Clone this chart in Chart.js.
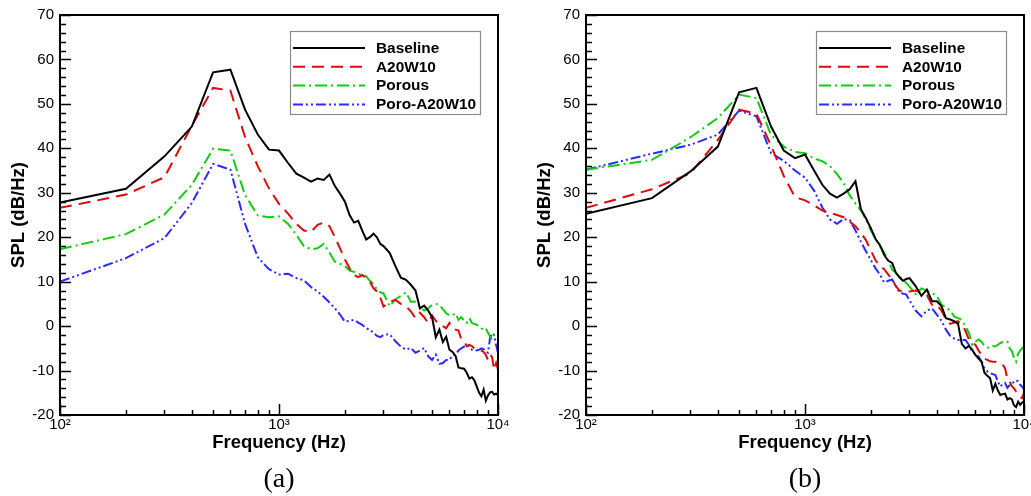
<!DOCTYPE html>
<html><head><meta charset="utf-8">
<script src="https://cdn.jsdelivr.net/npm/chart.js@4.4.0/dist/chart.umd.min.js"></script>
<style>
html,body{margin:0;padding:0;background:#fff;overflow:hidden;width:1031px;height:496px;}
.wrap{position:absolute;top:0;width:526px;height:496px;}
#wa{left:0}
#wb{left:526px}
canvas{display:block}
</style></head><body>
<div class="wrap" id="wa"><canvas id="ca" width="526" height="496"></canvas></div>
<div class="wrap" id="wb"><canvas id="cb" width="526" height="496"></canvas></div>
<script>
// ---- data ----
const freqs = [100,200,300,400,500,600,700,800,900,1000,
  1100,1200,1300,1400,1500,1600,1700,1800,1900,2000,
  2100,2200,2300,2400,2500,2600,2700,2800,2900,3000,
  3200,3400,3600,3800,4000,4200,4400,4600,4800,5000,
  5200,5400,5600,5800,6000,6200,6400,6600,6800,7000,
  7200,7400,7600,7800,8000,8200,8400,8600,8800,9000,
  9200,9400,9600,9800,10000];

const seriesNames = ['Baseline','A20W10','Porous','Poro-A20W10'];

// panel (a)
const baselineA = [27.8,30.9,38.2,44.9,57.1,57.7,48.7,43.1,39.7,39.5,
  36.7,34.3,33.4,32.5,33.2,32.9,34.1,31.5,29.8,28.0,
  25.0,23.3,23.7,21.5,19.5,20.0,20.8,20.0,18.5,18.0,
  16.5,13.5,10.9,10.4,9.3,8.0,4.0,4.6,3.5,2.0,
  -2.5,-0.8,-3.6,-2.4,-5.3,-5.8,-6.7,-9.3,-9.5,-9.6,
  -10.5,-11.8,-11.5,-12.2,-13.6,-15.0,-15.8,-14.3,-16.8,-15.6,
  -14.9,-14.8,-15.4,-15.2,-15.5];
const a20w10A = [26.6,29.6,33.5,45.1,53.6,53.0,42.5,36.0,31.0,27.5,
  25.3,23.0,21.5,21.2,22.8,23.3,22.5,20.0,17.5,15.0,
  13.0,11.5,11.0,11.5,10.8,10.0,8.5,7.8,6.5,4.4,
  5.5,5.9,5.0,4.5,3.3,1.8,3.0,2.0,0.7,2.4,
  1.2,0.5,0.0,-0.5,0.7,-0.5,-0.8,-1.0,-3.0,-3.4,
  -4.5,-4.2,-4.5,-5.0,-5.0,-5.3,-5.5,-5.8,-6.5,-7.6,
  -6.4,-7.0,-9.8,-8.3,-9.8];
const porousA = [17.3,20.7,25.1,31.8,39.9,39.5,29.5,24.9,24.5,24.7,
  23.0,20.5,18.0,17.3,17.5,18.5,16.5,14.5,14.0,13.5,
  12.5,12.2,11.8,11.5,11.2,10.2,9.5,8.2,7.6,7.4,
  4.5,6.0,6.8,7.6,5.5,5.5,4.2,3.5,4.0,4.8,
  5.0,4.8,3.8,2.9,2.4,2.5,2.9,1.4,2.0,1.2,
  0.7,1.8,0.7,0.5,0.3,0.0,-0.5,-0.8,-0.5,-1.5,
  -2.3,-3.0,-1.9,-2.0,-2.5];
const poroA20w10A = [10.0,15.3,19.8,27.7,36.5,35.2,23.0,15.5,12.8,11.6,
  11.8,10.8,10.3,8.8,7.8,6.6,5.3,4.0,2.6,1.0,
  1.2,1.4,0.8,0.3,-0.5,-0.8,-1.5,-2.2,-2.5,-2.0,
  -1.8,-3.4,-4.6,-5.3,-4.9,-6.0,-5.5,-4.9,-6.8,-7.6,
  -6.4,-8.5,-8.3,-7.6,-7.6,-6.6,-6.4,-5.5,-5.0,-4.6,
  -4.3,-4.5,-5.3,-5.3,-5.5,-5.3,-5.0,-5.2,-5.8,-6.0,
  -2.7,-1.6,-2.0,-4.2,-6.0];

// panel (b)
const baselineB = [25.3,28.8,34.8,40.4,52.6,53.6,44.9,39.5,37.8,38.6,
  35.0,31.8,29.8,28.9,29.8,30.8,32.6,26.3,24.2,22.0,
  19.6,18.2,16.0,14.7,14.2,12.0,11.0,10.2,10.6,10.8,
  9.0,6.8,8.2,5.6,5.6,4.5,1.8,1.5,1.1,0.5,
  -4.0,-5.0,-4.5,-5.3,-6.5,-7.3,-8.0,-10.5,-11.2,-11.7,
  -14.5,-13.0,-14.5,-15.5,-15.3,-15.2,-16.5,-16.2,-16.5,-17.8,
  -18.2,-17.0,-17.7,-17.2,-17.0];
const a20w10B = [26.6,30.8,34.4,41.9,48.7,47.8,40.6,33.8,29.0,28.3,
  27.2,26.0,25.5,25.0,24.5,23.5,22.5,21.0,19.3,17.0,
  14.8,13.5,12.8,11.6,10.5,9.0,8.0,7.8,7.8,7.8,
  8.0,7.5,7.0,4.8,4.8,3.5,1.5,0.5,0.8,1.1,
  0.3,-1.0,-3.0,-3.8,-4.2,-5.5,-6.5,-7.3,-7.6,-7.9,
  -8.0,-8.0,-8.3,-8.5,-8.7,-9.5,-12.0,-12.5,-13.5,-14.0,
  -14.7,-15.4,-16.0,-16.2,-15.0];
const porousB = [35.2,37.4,42.5,46.8,52.1,51.3,43.0,40.4,39.2,38.9,
  37.7,37.1,36.0,34.2,32.2,29.4,27.6,26.0,24.0,21.5,
  19.6,18.0,16.5,14.9,12.7,12.0,11.2,10.4,9.7,8.9,
  7.2,8.5,8.0,7.4,6.8,4.8,4.3,3.5,2.2,1.8,
  1.4,0.0,-1.5,-4.2,-3.5,-3.0,-3.5,-4.5,-4.8,-4.9,
  -4.5,-4.6,-4.2,-3.8,-3.6,-3.4,-3.5,-5.0,-5.6,-7.2,
  -8.0,-6.2,-5.5,-5.0,-4.5];
const poroA20w10B = [35.2,38.8,40.8,43.1,48.5,47.2,38.9,37.2,35.0,33.4,
  30.5,26.7,24.0,23.0,24.1,23.9,21.5,19.0,16.8,14.8,
  13.0,11.6,9.8,10.2,10.5,9.0,7.6,7.3,7.1,5.8,
  3.5,2.2,3.5,4.0,2.6,1.2,-0.8,-2.2,-2.8,-3.1,
  -3.1,-3.1,-4.2,-5.8,-6.3,-6.8,-8.0,-9.5,-10.2,-10.6,
  -10.8,-11.0,-12.5,-13.6,-13.0,-12.8,-13.9,-13.3,-12.8,-12.6,
  -12.2,-12.4,-13.2,-13.6,-14.3];

// ---- ticks ----
const xTickValues = [100,200,300,400,500,600,700,800,900,1000,
  2000,3000,4000,5000,6000,7000,8000,9000,10000];
const xMajorValues = [100,1000,10000];
const xMajorLabels = ['10\u00b2','10\u00b3','10\u2074'];
const yTickValues = [-20,-10,0,10,20,30,40,50,60,70];
const yMinorValues = [-18,-16,-14,-12,-8,-6,-4,-2,2,4,6,8,12,14,16,18,22,24,26,28,
  32,34,36,38,42,44,46,48,52,54,56,58,62,64,66,68];

// ---- styles ----
const colors = ['#000000','#dc0a0a','#12cc12','#2a2aff'];
const dashes = [[], [12,7], [12,4,2,4], [10,3,2,3,2,3]];
const SANS = '"Liberation Sans", Arial, sans-serif';
Chart.defaults.font.family = SANS;
Chart.defaults.color = '#000';

const framePlugin = {
  id: 'frame',
  afterDraw(chart) {
    const {ctx, chartArea: a, scales: {x, y}} = chart;
    ctx.save();
    ctx.strokeStyle = '#000';
    ctx.setLineDash([]);
    ctx.lineWidth = 1.5;
    ctx.beginPath();
    yTickValues.forEach(v => { const py = Math.round(y.getPixelForValue(v)) + 0.5; ctx.moveTo(a.left, py); ctx.lineTo(a.left + 11, py); });
    yMinorValues.forEach(v => { const py = Math.round(y.getPixelForValue(v)) + 0.5; ctx.moveTo(a.left, py); ctx.lineTo(a.left + 6, py); });
    ctx.stroke();
    ctx.beginPath();
    xTickValues.forEach(v => {
      const px = Math.round(x.getPixelForValue(v)) + 0.5;
      const len = xMajorValues.includes(v) ? 11 : 5;
      ctx.moveTo(px, a.bottom); ctx.lineTo(px, a.bottom - len);
    });
    ctx.stroke();
    ctx.lineWidth = 2;
    ctx.strokeRect(a.left, a.top, a.right - a.left, a.bottom - a.top);
    const bx = a.left + 230.5, by = a.top + 16.5;
    ctx.fillStyle = '#fff';
    ctx.fillRect(bx, by, 190, 83);
    ctx.strokeStyle = '#8c8c8c';
    ctx.lineWidth = 1.2;
    ctx.strokeRect(bx, by, 190, 83);
    chart.data.datasets.forEach((ds, i) => {
      const ry = a.top + 33 + i * 18.8;
      ctx.beginPath();
      ctx.setLineDash(ds.borderDash || []);
      ctx.strokeStyle = ds.borderColor;
      ctx.lineWidth = 2;
      ctx.moveTo(a.left + 233, ry); ctx.lineTo(a.left + 305, ry);
      ctx.stroke();
      ctx.setLineDash([]);
      ctx.fillStyle = '#000';
      ctx.font = 'bold 15.4px ' + SANS;
      ctx.textBaseline = 'middle';
      ctx.textAlign = 'left';
      ctx.fillText(ds.label, a.left + 316, ry + 0.5);
    });
    ctx.restore();
  }
};

function makeChart(id, seriesList, caption) {
  const datasets = seriesList.map((vals, i) => ({
    label: seriesNames[i],
    data: freqs.map((f, k) => ({x: f, y: vals[k]})),
    borderColor: colors[i],
    borderDash: dashes[i],
    borderWidth: 2,
    pointRadius: 0,
    fill: false,
    tension: 0
  }));
  return new Chart(document.getElementById(id), {
    type: 'line',
    data: {datasets},
    plugins: [framePlugin],
    options: {
      responsive: false,
      animation: false,
      devicePixelRatio: 1,
      layout: {padding: {left: 0, top: 15, right: 28, bottom: 0}},
      plugins: {
        legend: {display: false},
        tooltip: {enabled: false},
        title: {
          display: true, position: 'bottom', fullSize: false, text: caption,
          font: {family: '"Liberation Serif", "Times New Roman", serif', size: 28, weight: 'normal'},
          color: '#000', padding: {top: 0, bottom: 0}
        }
      },
      scales: {
        x: {
          type: 'logarithmic', min: 100, max: 10000,
          grid: {display: false, drawTicks: false}, border: {display: false},
          afterBuildTicks: s => { s.ticks = xTickValues.map(v => ({value: v, major: xMajorValues.includes(v)})); },
          afterFit: s => { s.height = 47.4; s.paddingLeft = 0; s.paddingRight = 0; },
          ticks: {
            autoSkip: false, maxRotation: 0, minRotation: 0, padding: 1,
            font: {size: 15}, color: '#000',
            callback: v => { const k = xMajorValues.indexOf(v); return k >= 0 ? xMajorLabels[k] : ''; }
          },
          title: {display: true, text: 'Frequency (Hz)', color: '#000',
            font: {size: 18.5, weight: 'bold'}, padding: {top: 0, bottom: 8}}
        },
        y: {
          type: 'linear', min: -20, max: 70,
          grid: {display: false, drawTicks: false}, border: {display: false},
          afterBuildTicks: s => { s.ticks = yTickValues.map(v => ({value: v})); },
          afterFit: s => { s.width = 60; },
          ticks: {font: {size: 15}, color: '#000', padding: 6},
          title: {display: true, text: 'SPL (dB/Hz)', color: '#000',
            font: {size: 18.5, weight: 'bold'}, padding: {top: 8, bottom: 0}}
        }
      }
    }
  });
}

makeChart('ca', [baselineA, a20w10A, porousA, poroA20w10A], '(a)');
makeChart('cb', [baselineB, a20w10B, porousB, poroA20w10B], '(b)');
</script>
</body></html>
